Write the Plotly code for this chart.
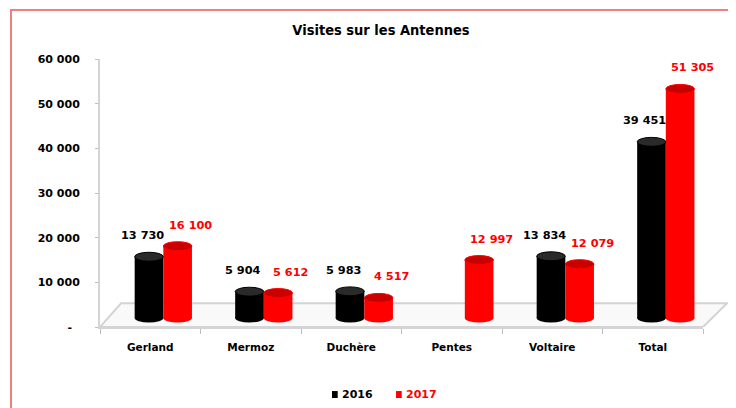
import plotly.graph_objects as go

categories = ["Gerland", "Mermoz", "Duchère", "Pentes", "Voltaire", "Total"]
visits_2016 = [13730, 5904, 5983, None, 13834, 39451]
visits_2017 = [16100, 5612, 4517, 12997, 12079, 51305]
series_names = ["2016", "2017"]
y_tickvals = [0, 10000, 20000, 30000, 40000, 50000, 60000]
y_ticktext = ["-\u00a0\u00a0", "10 000", "20 000", "30 000", "40 000", "50 000", "60 000"]

# styling / pseudo-3D constants
BASE = 2000          # bars stand on the 3D floor
CAP = 1000           # half height of the cylinder caps (data units)
WIDTH = 0.285
OFFSETS = [-0.155, 0.13]
BODY = ["#000000", "#ff0000"]
CAPCOL = ["#2a2a2a", "#c80000"]
LABEL_DX = [-0.08, 0.40]
FONT = "DejaVu Sans"

def fmt(v):
    return f"{v:,}".replace(",", " ")

fig = go.Figure()
series = [visits_2016, visits_2017]
for k, vals in enumerate(series):
    fig.add_trace(go.Bar(
        x=categories, y=vals, base=BASE, name=series_names[k],
        width=WIDTH, offset=OFFSETS[k],
        marker=dict(color=BODY[k], line=dict(width=0)),
        showlegend=False,
    ))

shapes = []
# floor (3D plane)
shapes.append(dict(type="path", xref="paper", yref="y",
                   path="M 0,0 L 1,0 L 1.04,5300 L 0.035,5300 Z",
                   line=dict(color="#d4d4d4", width=2), fillcolor="#f9f9f9", layer="below"))
annotations = []
for k, vals in enumerate(series):
    for i, v in enumerate(vals):
        if v is None:
            continue
        x0 = i + OFFSETS[k]
        x1 = x0 + WIDTH
        top = v + BASE
        # bottom rounding
        shapes.append(dict(type="circle", xref="x", yref="y", x0=x0, x1=x1,
                           y0=BASE - CAP, y1=BASE + CAP, fillcolor=BODY[k],
                           line=dict(width=0), layer="above"))
        # top cap
        shapes.append(dict(type="circle", xref="x", yref="y", x0=x0, x1=x1,
                           y0=top - CAP, y1=top + CAP, fillcolor=CAPCOL[k],
                           line=dict(color=BODY[k], width=1), layer="above"))
        annotations.append(dict(x=i + LABEL_DX[k], y=top, xref="x", yref="y",
                                text=fmt(v), showarrow=False, yshift=21,
                                font=dict(family=FONT, size=11.3, color=BODY[k], weight="bold")))

# legend (drawn compactly like the original)
leg_x = [0.3847, 0.4909]
for k in range(2):
    shapes.append(dict(type="rect", xref="paper", yref="paper",
                       x0=leg_x[k], x1=leg_x[k] + 0.0095, y0=-0.265, y1=-0.239,
                       fillcolor=BODY[k], line=dict(width=0)))
    annotations.append(dict(x=leg_x[k] + 0.013, y=-0.252, xref="paper", yref="paper",
                            xanchor="left", yanchor="middle", showarrow=False,
                            text=series_names[k],
                            font=dict(family=FONT, size=11, color=BODY[k], weight="bold")))

# outer red frame
shapes.append(dict(type="rect", xref="paper", yref="paper",
                   x0=-0.1476, x1=1.3, y0=-0.6, y1=1.183,
                   line=dict(color="#f08080", width=2), fillcolor="rgba(0,0,0,0)", layer="below"))

fig.update_layout(
    width=728, height=400,
    margin=dict(l=92, r=33, t=51, b=81),
    paper_bgcolor="white", plot_bgcolor="rgba(0,0,0,0)",
    barmode="group",
    title=dict(text="Visites sur les Antennes", x=0.466, xref="paper", xanchor="center",
               y=0.945, yanchor="middle",
               font=dict(family="DejaVu Sans Condensed, DejaVu Sans", size=14.5,
                         color="black", weight="bold")),
    shapes=shapes, annotations=annotations,
    showlegend=False,
)
fig.update_xaxes(
    type="category", range=[-0.5, 5.5],
    showline=True, linecolor="#d4d4d4", linewidth=2,
    ticks="outside", tickson="boundaries", ticklen=5, tickcolor="#bdbdbd",
    tickfont=dict(family=FONT, size=10.5, color="black", weight="bold"),
    ticklabelstandoff=9,
    showgrid=False, zeroline=False,
)
fig.update_yaxes(
    range=[0, 60000], tickvals=y_tickvals, ticktext=y_ticktext,
    showline=True, linecolor="#d4d4d4", linewidth=2,
    ticks="outside", ticklen=3, tickcolor="#bdbdbd",
    tickfont=dict(family=FONT, size=11, color="black", weight="bold"),
    ticklabelstandoff=13,
    showgrid=False, zeroline=False,
)

fig.write_html("out.html")
